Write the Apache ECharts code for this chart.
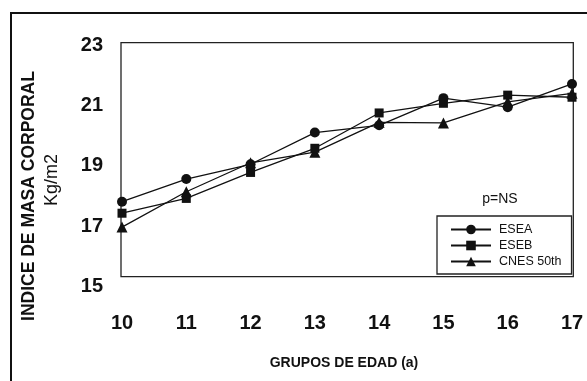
<!DOCTYPE html>
<html>
<head>
<meta charset="utf-8">
<script src="https://cdn.jsdelivr.net/npm/echarts@6/dist/echarts.min.js"></script>
<style>
  html, body { margin: 0; padding: 0; background: #fff; }
  #chart { width: 587px; height: 381px; }
</style>
</head>
<body>
<div id="chart"></div>
<script>
// Age groups (years) and body mass index per group (kg/m2)
const ages = [10, 11, 12, 13, 14, 15, 16, 17];
const esea = [17.81, 18.56, 19.05, 20.10, 20.34, 21.24, 20.94, 21.71];
const eseb = [17.43, 17.92, 18.78, 19.58, 20.75, 21.07, 21.34, 21.27];
const cnes = [16.97, 18.14, 19.10, 19.45, 20.44, 20.42, 21.12, 21.40];
const yTicks = [15, 17, 19, 21, 23];

const FONT = '"Liberation Sans", Arial, sans-serif';
const pairs = arr => ages.map((a, i) => [a, arr[i]]);

const lineStyle = { color: '#111', width: 1.3 };
const itemStyle = { color: '#111' };

const chart = echarts.init(document.getElementById('chart'), null, { renderer: 'canvas' });

chart.setOption({
  backgroundColor: '#fff',
  animation: false,
  textStyle: { fontFamily: FONT },
  grid: { left: 122, right: 15, top: 45, bottom: 94.4 },
  xAxis: {
    type: 'value',
    min: ages[0],
    max: ages[ages.length - 1],
    interval: 1,
    axisLine: { show: false },
    axisTick: { show: false },
    splitLine: { show: false },
    axisLabel: {
      margin: 27,
      color: '#111',
      fontSize: 20,
      fontWeight: 'bold',
      fontFamily: FONT
    }
  },
  yAxis: {
    type: 'value',
    min: yTicks[0],
    max: yTicks[yTicks.length - 1],
    interval: 2,
    axisLine: { show: false },
    axisTick: { show: false },
    splitLine: { show: false },
    axisLabel: {
      margin: 19,
      color: '#111',
      fontSize: 20,
      fontWeight: 'bold',
      fontFamily: FONT
    }
  },
  legend: {
    orient: 'vertical',
    left: 437,
    top: 216,
    backgroundColor: '#fff',
    borderColor: '#222',
    borderWidth: 1.3,
    padding: [7, 10, 6, 13],
    itemWidth: 40,
    itemHeight: 12,
    itemGap: 3,
    textStyle: { fontSize: 12.5, color: '#111', fontFamily: FONT, padding: [0, 0, 0, 3] },
    data: ['ESEA', 'ESEB', 'CNES 50th']
  },
  graphic: [
    // outer frame around the whole figure
    { type: 'rect', shape: { x: 11, y: 13, width: 600, height: 400 },
      style: { fill: 'none', stroke: '#111', lineWidth: 2 }, z: 0 },
    // plot frame
    { type: 'rect', shape: { x: 121, y: 42.7, width: 452.3, height: 234 },
      style: { fill: 'none', stroke: '#222', lineWidth: 1.3 }, z: 1 },
    { type: 'text', x: 500, y: 199, z: 5,
      style: { text: 'p=NS', font: '14px ' + FONT, fill: '#111', align: 'center', verticalAlign: 'middle' } },
    { type: 'text', x: 344, y: 363, z: 5,
      style: { text: 'GRUPOS DE EDAD (a)', font: 'bold 14px ' + FONT, fill: '#111', align: 'center', verticalAlign: 'middle' } },
    { type: 'text', x: 29, y: 196, rotation: Math.PI / 2, z: 5,
      style: { text: 'INDICE DE MASA CORPORAL', font: 'bold 17.5px ' + FONT, fill: '#111', align: 'center', verticalAlign: 'middle' } },
    { type: 'text', x: 52, y: 180, rotation: Math.PI / 2, z: 5,
      style: { text: 'Kg/m2', font: '18px ' + FONT, fill: '#111', align: 'center', verticalAlign: 'middle' } }
  ],
  series: [
    { name: 'ESEA', type: 'line', data: pairs(esea), symbol: 'circle', symbolSize: 10,
      lineStyle, itemStyle, z: 4 },
    { name: 'ESEB', type: 'line', data: pairs(eseb), symbol: 'rect', symbolSize: 9,
      lineStyle, itemStyle, z: 3 },
    { name: 'CNES 50th', type: 'line', data: pairs(cnes), symbol: 'triangle', symbolSize: 11,
      lineStyle, itemStyle, z: 2 }
  ]
});
</script>
</body>
</html>
